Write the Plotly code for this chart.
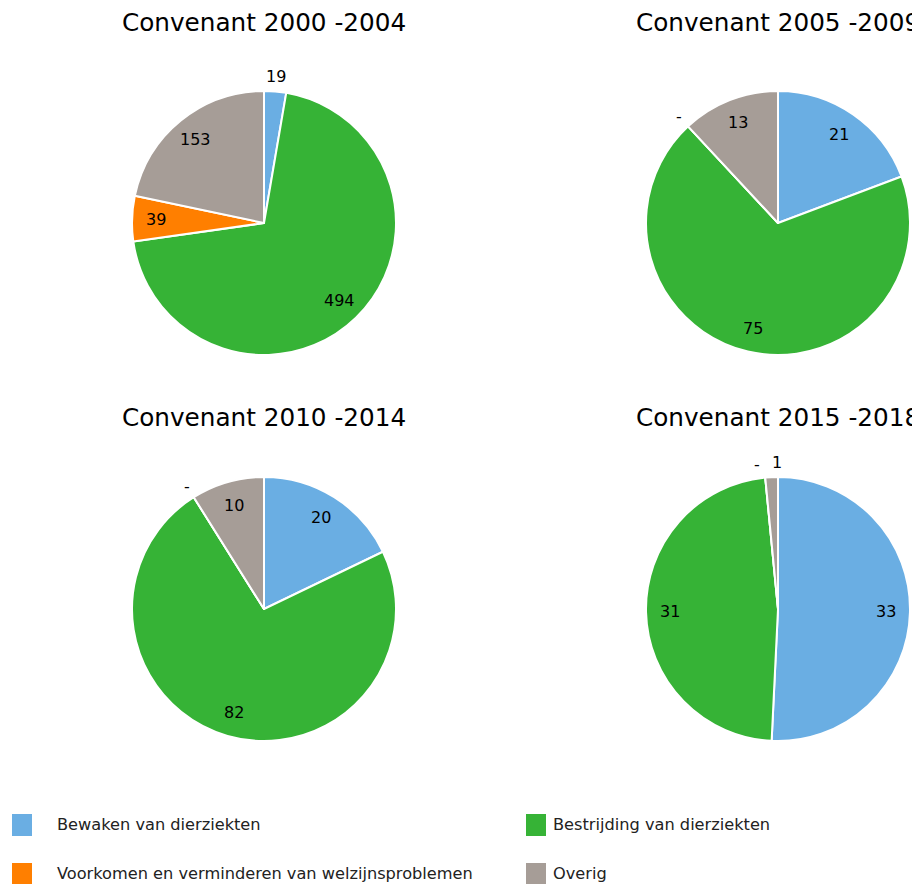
import math
import plotly.graph_objects as go

categories = ["Bewaken van dierziekten", "Bestrijding van dierziekten",
              "Voorkomen en verminderen van welzijnsproblemen", "Overig"]
colors = ["#6aaee3", "#36b336", "#ff7f00", "#a69d97"]
titles = ["Convenant 2000 -2004", "Convenant 2005 -2009",
          "Convenant 2010 -2014", "Convenant 2015 -2018"]
v2000 = [19, 494, 39, 153]
v2005 = [21, 75, 0, 13]
v2010 = [20, 82, 0, 10]
v2015 = [33, 31, 0, 1]
series = [v2000, v2005, v2010, v2015]

OFF = 8  # page body margin
W, H = 920 - OFF, 884 - OFF
R = 132
centers = [(264, 223), (778, 223), (264, 609), (778, 609)]
FONT = "DejaVu Sans, Verdana, sans-serif"

fig = go.Figure()
annotations = []
shapes = []


def px(x):
    return (x - OFF) / W


def py(y):
    return (H - (y - OFF)) / H


for vals, title, (cx, cy) in zip(series, titles, centers):
    fig.add_trace(go.Pie(
        labels=categories, values=vals, sort=False, direction="clockwise",
        rotation=0, marker=dict(colors=colors, line=dict(color="white", width=2)),
        textinfo="none", showlegend=False, hoverinfo="label+value",
        domain=dict(x=[px(cx - R), px(cx + R)], y=[py(cy + R), py(cy - R)]),
    ))
    annotations.append(dict(text=title, x=px(cx), y=py(23 if cy < 400 else 418),
                            xref="paper", yref="paper", showarrow=False,
                            xanchor="center", yanchor="middle",
                            font=dict(family=FONT, size=24.7, color="#000")))
    total = sum(vals)
    cum = 0
    labels = []
    for v in vals:
        frac = v / total
        mid = (cum + frac / 2) * 2 * math.pi
        cum += frac
        if v == 0:
            txt, r, out = "-", R + 13, True
        elif frac < 0.04:
            txt, r, out = str(v), R + 15, True
        else:
            txt, r, out = str(v), R - 24, False
        labels.append([txt, cx + r * math.sin(mid), cy - r * math.cos(mid), out])
    # simple overlap avoidance for outside labels
    outs = sorted([l for l in labels if l[3]], key=lambda l: l[1])
    for a, b in zip(outs, outs[1:]):
        if abs(a[2] - b[2]) < 16 and b[1] - a[1] < 20:
            c = (a[1] + b[1]) / 2
            a[1], b[1] = c - 10, c + 10
    for txt, x, y, out in labels:
        annotations.append(dict(text=txt, x=px(x), y=py(y), xref="paper", yref="paper",
                                showarrow=False, xanchor="center", yanchor="middle",
                                font=dict(family=FONT, size=16, color="#000")))

# legend (custom, two columns)
leg_pos = [(12, 825), (526, 825), (12, 874), (526, 874)]
for cat, col, (lx, ly) in zip(categories, colors, leg_pos):
    shapes.append(dict(type="rect", xref="paper", yref="paper",
                       x0=px(lx), x1=px(lx + 20), y0=py(ly + 11), y1=py(ly - 11),
                       fillcolor=col, line=dict(width=0)))
    tx = lx + 43 if lx < 100 else lx + 25
    annotations.append(dict(text=cat, x=px(tx), y=py(ly - 1), xref="paper", yref="paper",
                            showarrow=False, xanchor="left", yanchor="middle",
                            font=dict(family=FONT, size=16.2, color="#222")))

fig.update_layout(width=W, height=H, margin=dict(l=0, r=0, t=0, b=0),
                  paper_bgcolor="white", plot_bgcolor="white",
                  annotations=annotations, shapes=shapes)
fig.write_html("out.html")
